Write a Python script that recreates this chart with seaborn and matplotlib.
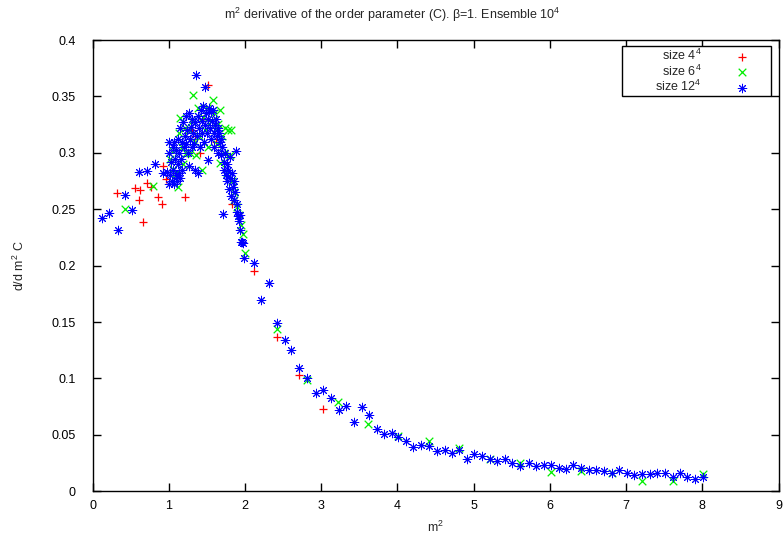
import matplotlib
matplotlib.use("Agg")
import matplotlib.pyplot as plt
import seaborn as sns
from matplotlib.ticker import FuncFormatter

# size 4^4 (red +)
x_4 = [0.32, 0.56, 0.62, 0.61, 0.66, 0.71, 0.77, 0.86, 0.91, 0.92, 0.96,
       1.10, 1.21, 1.30, 1.35, 1.41, 1.45, 1.52, 1.62, 1.83,
       2.12, 2.42, 2.71, 3.02]
y_4 = [0.264, 0.269, 0.267, 0.258, 0.239, 0.273, 0.270, 0.261, 0.255, 0.288, 0.277,
       0.280, 0.261, 0.320, 0.315, 0.300, 0.330, 0.360, 0.310, 0.255,
       0.195, 0.137, 0.103, 0.073]

# size 6^4 (green x)
x_6 = [0.42, 0.80,
       1.02, 1.05, 1.06, 1.08, 1.10, 1.12, 1.13, 1.15, 1.17, 1.19, 1.21, 1.23,
       1.26, 1.28, 1.30, 1.32, 1.34, 1.36, 1.38, 1.40, 1.43, 1.45, 1.47, 1.50,
       1.52, 1.55, 1.58, 1.60, 1.62, 1.63, 1.65, 1.67, 1.67, 1.70, 1.72, 1.74,
       1.76, 1.78, 1.80, 1.82, 1.83, 1.85, 1.86, 1.89, 1.92, 1.95, 1.97, 2.00,
       2.42, 2.82, 3.22, 3.62, 4.01, 4.42, 4.81, 5.21, 5.61, 6.02, 6.41, 6.81,
       7.21, 7.62, 8.01]
y_6 = [0.250, 0.271,
       0.295, 0.286, 0.302, 0.278, 0.282, 0.270, 0.318, 0.331, 0.305, 0.290, 0.322, 0.300,
       0.320, 0.300, 0.328, 0.351, 0.310, 0.298, 0.340, 0.315, 0.285, 0.332, 0.320, 0.340,
       0.305, 0.328, 0.347, 0.335, 0.320, 0.308, 0.326, 0.338, 0.291, 0.315, 0.300, 0.322,
       0.282, 0.320, 0.298, 0.320, 0.275, 0.265, 0.258, 0.252, 0.245, 0.236, 0.228, 0.211,
       0.144, 0.099, 0.079, 0.060, 0.049, 0.045, 0.038, 0.029, 0.025, 0.017, 0.018, 0.016,
       0.009, 0.009, 0.015]

# size 12^4 (blue asterisk)
x_12 = [0.12, 0.22, 0.33, 0.42, 0.52, 0.61, 0.72, 0.82, 0.92,
        0.98, 1.00, 1.00, 1.01, 1.02, 1.03, 1.04, 1.05, 1.06, 1.07, 1.07, 1.08,
        1.09, 1.10, 1.11, 1.12, 1.12, 1.13, 1.14, 1.15, 1.15, 1.16, 1.17, 1.18,
        1.19, 1.20, 1.21, 1.22, 1.23, 1.24, 1.25, 1.26, 1.27, 1.28, 1.29, 1.30,
        1.31, 1.32, 1.33, 1.34, 1.35, 1.36, 1.37, 1.38, 1.39, 1.40, 1.41, 1.42,
        1.43, 1.44, 1.45, 1.46, 1.47, 1.48, 1.49, 1.50, 1.51, 1.52, 1.53, 1.54,
        1.55, 1.56, 1.57, 1.58, 1.59, 1.60, 1.61, 1.62, 1.63, 1.64, 1.65, 1.66,
        1.67, 1.68, 1.69, 1.70, 1.71, 1.72, 1.73, 1.74, 1.75, 1.76, 1.77, 1.78,
        1.79, 1.80, 1.81, 1.82, 1.83, 1.84, 1.85, 1.86, 1.87, 1.88, 1.89, 1.90,
        1.91, 1.92, 1.93, 1.94, 1.95, 1.96, 1.97, 1.99,
        2.12, 2.21, 2.32, 2.42, 2.52, 2.61, 2.71, 2.82, 2.93, 3.03, 3.13, 3.23,
        3.33, 3.43, 3.53, 3.63, 3.73, 3.83, 3.93, 4.01, 4.11, 4.21, 4.31, 4.42,
        4.52, 4.62, 4.71, 4.81, 4.91, 5.01, 5.11, 5.21, 5.31, 5.41, 5.51, 5.61,
        5.72, 5.82, 5.92, 6.02, 6.12, 6.21, 6.31, 6.41, 6.51, 6.61, 6.71, 6.81,
        6.91, 7.01, 7.11, 7.21, 7.31, 7.41, 7.51, 7.61, 7.71, 7.80, 7.91, 8.01]
y_12 = [0.242, 0.247, 0.232, 0.263, 0.249, 0.283, 0.284, 0.290, 0.282,
        0.283, 0.272, 0.300, 0.310, 0.280, 0.292, 0.275, 0.305, 0.285, 0.272, 0.310, 0.295,
        0.280, 0.303, 0.275, 0.290, 0.312, 0.282, 0.300, 0.278, 0.322, 0.295, 0.310, 0.285,
        0.327, 0.305, 0.315, 0.333, 0.308, 0.320, 0.300, 0.288, 0.335, 0.312, 0.323, 0.305,
        0.330, 0.318, 0.308, 0.285, 0.327, 0.369, 0.315, 0.333, 0.282, 0.322, 0.305, 0.338,
        0.318, 0.328, 0.342, 0.310, 0.358, 0.325, 0.335, 0.318, 0.294, 0.330, 0.340, 0.322,
        0.336, 0.312, 0.328, 0.338, 0.318, 0.305, 0.325, 0.330, 0.315, 0.322, 0.300, 0.318,
        0.310, 0.298, 0.312, 0.305, 0.246, 0.292, 0.285, 0.300, 0.280, 0.290, 0.275, 0.285,
        0.268, 0.296, 0.278, 0.262, 0.282, 0.270, 0.258, 0.275, 0.265, 0.302, 0.255, 0.248,
        0.244, 0.240, 0.245, 0.232, 0.221, 0.221, 0.220, 0.207,
        0.202, 0.170, 0.185, 0.149, 0.134, 0.125, 0.109, 0.100, 0.087, 0.090, 0.083, 0.072,
        0.076, 0.061, 0.075, 0.068, 0.055, 0.051, 0.052, 0.048, 0.045, 0.039, 0.041, 0.040,
        0.036, 0.037, 0.034, 0.037, 0.029, 0.033, 0.031, 0.029, 0.027, 0.029, 0.025, 0.022,
        0.025, 0.022, 0.023, 0.023, 0.021, 0.020, 0.023, 0.021, 0.019, 0.019, 0.018, 0.016,
        0.019, 0.016, 0.014, 0.015, 0.015, 0.016, 0.016, 0.013, 0.016, 0.013, 0.011, 0.013]

sns.set_style("ticks")
plt.rcParams['font.family'] = ['Liberation Sans', 'DejaVu Sans']
plt.rcParams['mathtext.fontset'] = 'custom'
plt.rcParams['mathtext.rm'] = 'Liberation Sans'
plt.rcParams['mathtext.it'] = 'Liberation Sans:italic'

fig = plt.figure(figsize=(7.84, 5.41), dpi=100)
ax = fig.add_axes([0.118, 0.0919, 0.875, 0.834])

sns.scatterplot(x=x_4, y=y_4, ax=ax, marker='+', color='#ff0000', s=36,
                linewidth=0.9, label='         size 4$^4$')
sns.scatterplot(x=x_6, y=y_6, ax=ax, marker='x', color='#00ee00', s=30,
                linewidth=0.9, label='         size 6$^4$')
sns.scatterplot(x=x_12, y=y_12, ax=ax, marker=(8, 2, 0), color='#0000ff', s=38,
                linewidth=0.7, label='         size 12$^4$')

ax.set_xlim(0, 9)
ax.set_ylim(0, 0.4)
ax.set_xticks(range(0, 10))
ax.set_yticks([0, 0.05, 0.1, 0.15, 0.2, 0.25, 0.3, 0.35, 0.4])
ax.yaxis.set_major_formatter(FuncFormatter(lambda v, p: '%g' % v))
ax.tick_params(direction='in', length=6, width=1, top=True, right=True,
               labelsize=9, colors='black')
ax.tick_params(axis='y', pad=12)
ax.tick_params(axis='x', pad=6)
for sp in ax.spines.values():
    sp.set_visible(True)
    sp.set_linewidth(1)
    sp.set_color('black')

ax.set_xlabel('m$^2$', fontsize=9, labelpad=6)
ax.set_ylabel('d/d m$^2$ C', fontsize=9, labelpad=18)
fig.text(0.5, 0.972, 'm$^2$ derivative of the order parameter (C). \u03b2=1. Ensemble 10$^4$',
         ha='center', va='center', fontsize=9)

leg = ax.legend(loc='upper right', bbox_to_anchor=(0.989, 0.986), borderaxespad=0,
                markerfirst=False, fancybox=False, framealpha=1, edgecolor='black',
                fontsize=9, borderpad=0.15, labelspacing=0.0, handlelength=4.4,
                handletextpad=1.0)
leg.get_frame().set_linewidth(1)

fig.savefig('out.png', dpi=100)
